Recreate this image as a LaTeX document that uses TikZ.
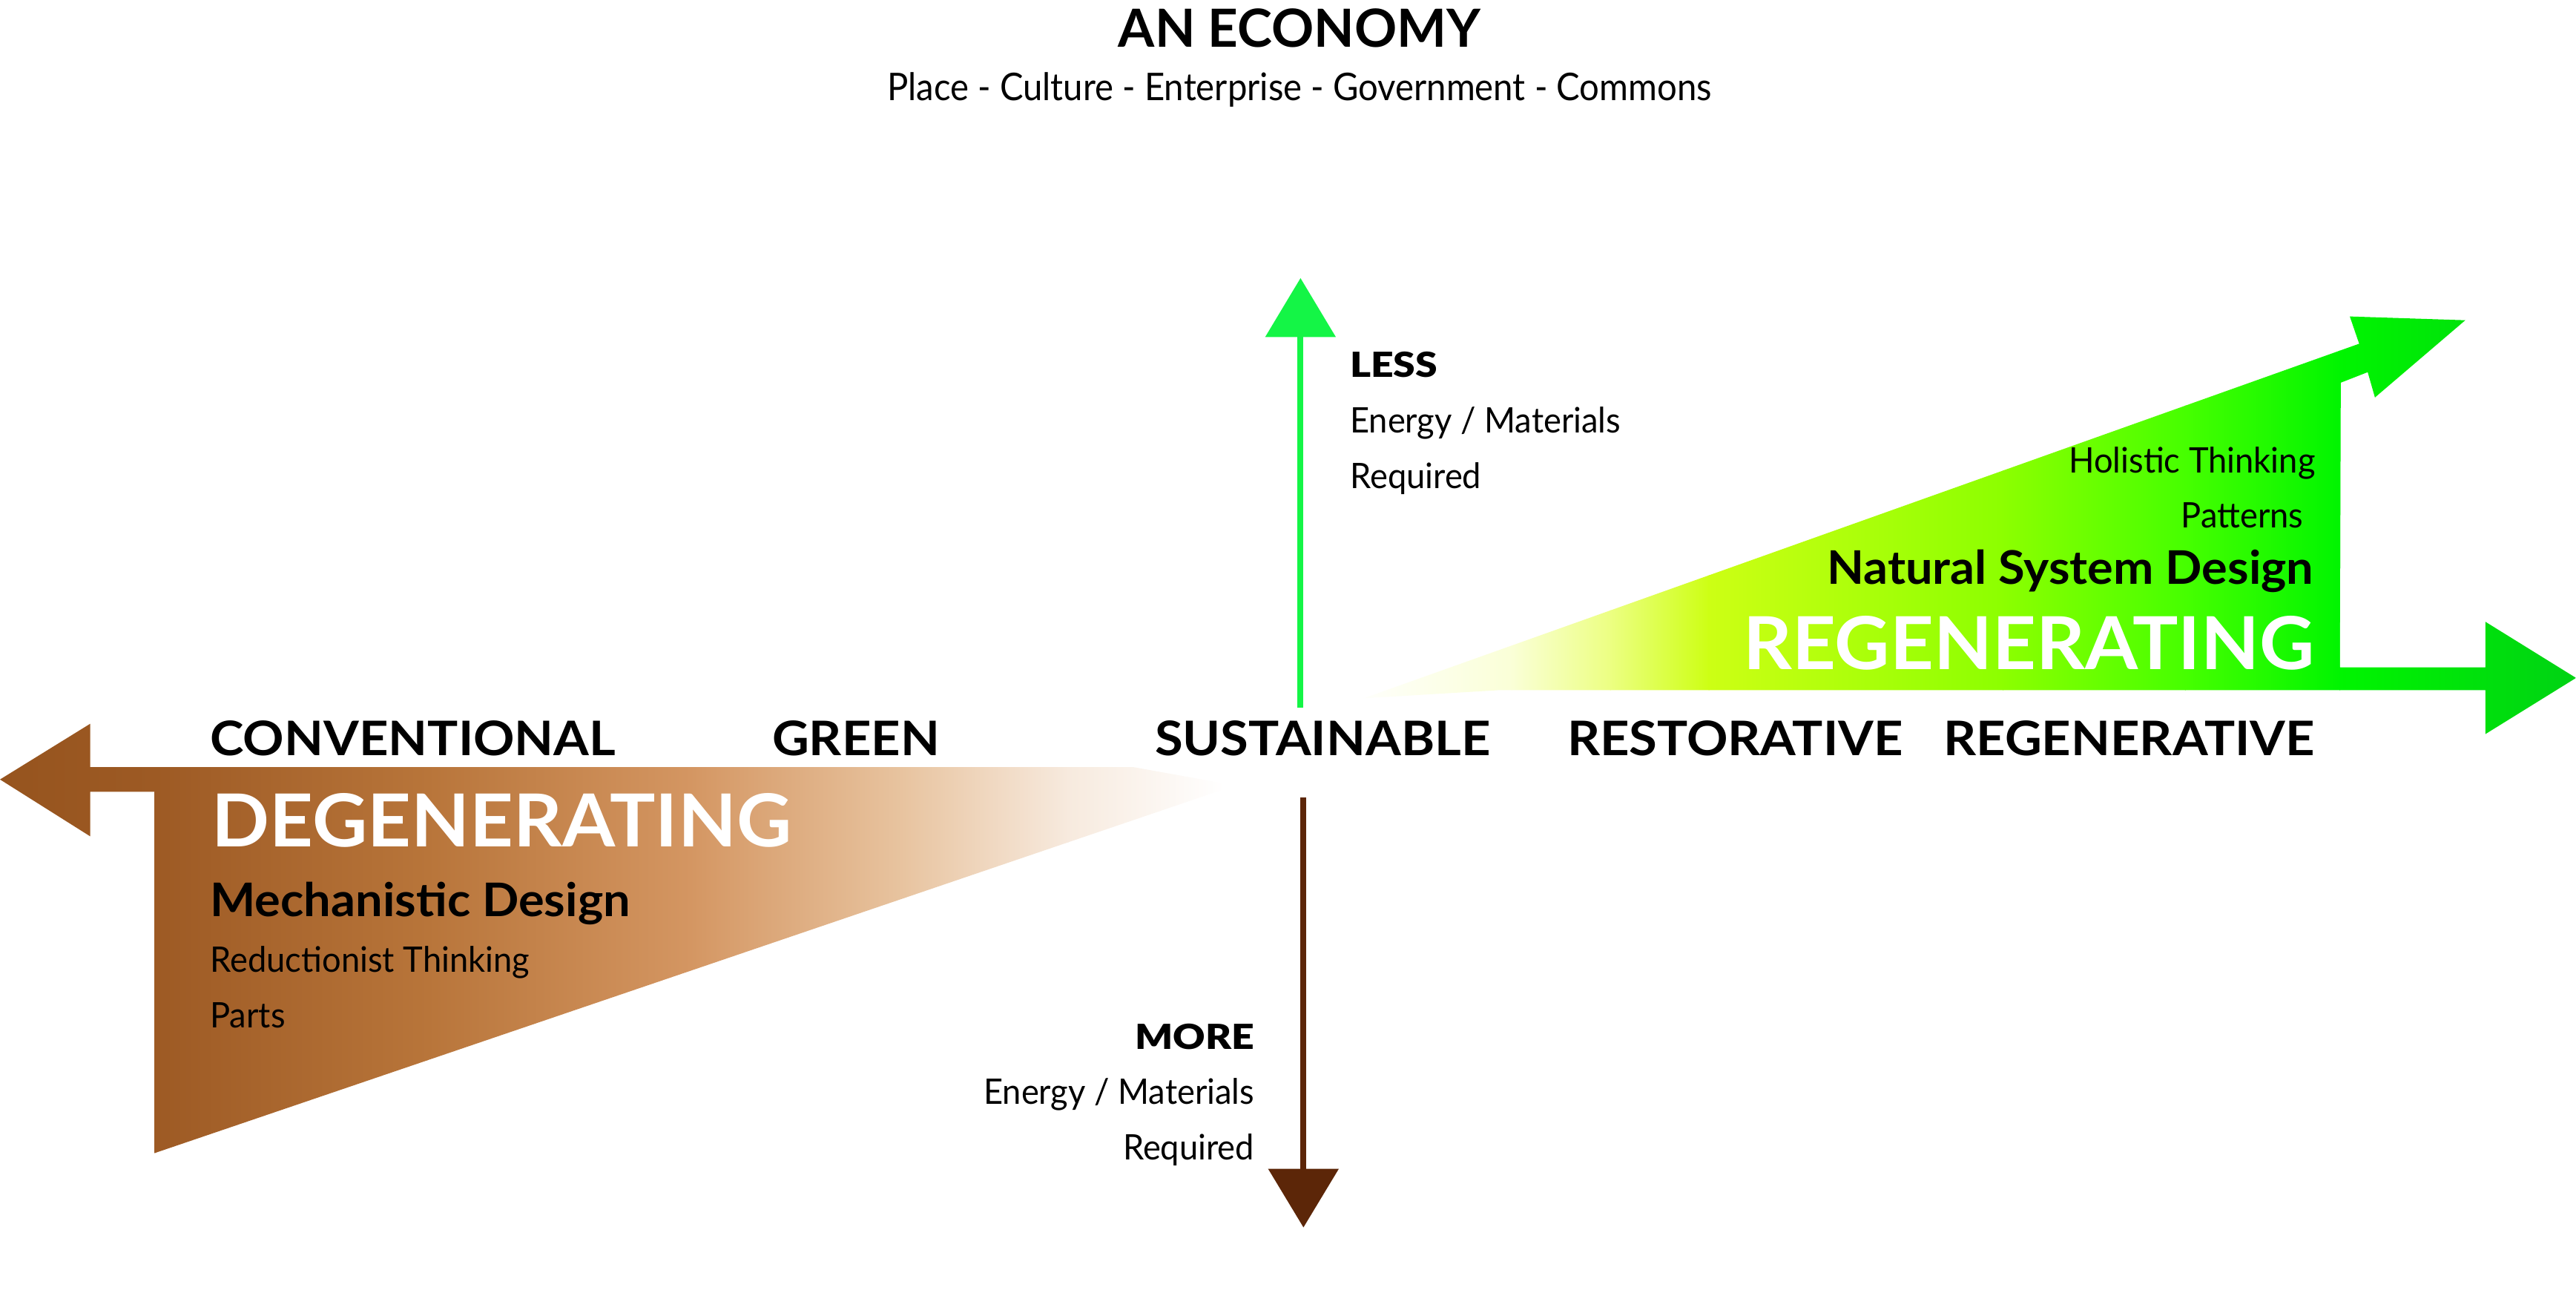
\documentclass[tikz,border=0pt]{standalone}
\usepackage{fontspec}
\setmainfont{Lato}
\newfontfamily\heavyfont{Lato Black}[FakeStretch=1.15]
\newfontfamily\wideLato{Lato}[FakeStretch=1.07]
\newfontfamily\bigLato{Lato}[FakeStretch=1.04]
\newfontfamily\narrowLato{Lato}[FakeStretch=0.955]
\newfontfamily\subLato{Lato}[FakeStretch=0.92]
\definecolor{upgreen}{RGB}{20,245,70}
\definecolor{downbrown}{RGB}{92,38,8}
\definecolor{brA}{RGB}{150,84,30}
\definecolor{brB}{RGB}{157,90,36}
\definecolor{brC}{RGB}{184,117,58}
\definecolor{brD}{RGB}{212,150,98}
\definecolor{brE}{RGB}{232,196,160}
\definecolor{brF}{RGB}{247,234,222}
\definecolor{grA}{RGB}{250,255,215}
\definecolor{grB}{RGB}{236,255,130}
\definecolor{grC}{RGB}{205,255,20}
\definecolor{grD}{RGB}{140,255,0}
\definecolor{grE}{RGB}{70,255,0}
\definecolor{grF}{RGB}{0,245,0}
\definecolor{grG}{RGB}{0,210,20}
\tikzset{
  txt/.style={inner sep=0pt, outer sep=0pt},
  axislabel/.style={txt, anchor=base west, font=\fontsize{29}{31}\wideLato\bfseries},
  bigword/.style={txt, text=white, font=\fontsize{44.5}{46}\bigLato\bfseries},
  designword/.style={txt, font=\fontsize{28.2}{30}\bigLato\bfseries},
  smallword/.style={txt, font=\fontsize{21.4}{23}\narrowLato},
  heavyword/.style={txt, font=\fontsize{21}{23}\heavyfont},
}
\begin{document}
\begin{tikzpicture}[x=1pt,y=-1pt]
\useasboundingbox (0,0) rectangle (1568,785);

% ---------- brown degenerating shape ----------
\begin{scope}
\clip (0,474.4) -- (54.9,440.5) -- (54.9,466.9) -- (690,466.9) -- (752,478)
  -- (94.1,701.8) -- (94.1,481.9) -- (54.9,481.9) -- (54.9,509) -- cycle;
\shade[left color=brA, right color=brB] (-1,430) rectangle (94.5,710);
\shade[left color=brB, right color=brC] (94,430) rectangle (260.5,710);
\shade[left color=brC, right color=brD] (260,430) rectangle (420.5,710);
\shade[left color=brD, right color=brE] (420,430) rectangle (550.5,710);
\shade[left color=brE, right color=brF] (550,430) rectangle (650.5,710);
\shade[left color=brF, right color=white] (650,430) rectangle (745,710);
\end{scope}

% ---------- green regenerating shape ----------
\begin{scope}
\clip (830,425) -- (913,420) -- (1512.8,420) -- (1512.8,446.8) -- (1568,412.6)
  -- (1512.8,378.4) -- (1512.8,406.2) -- (1424.2,406.2) -- (1424.8,232.9)
  -- (1441.2,226.5) -- (1445.6,241.9) -- (1500.6,194.9) -- (1430.3,192.6)
  -- (1436,209.2) -- cycle;
\shade[left color=white, right color=grA] (820,185) rectangle (920.5,450);
\shade[left color=grA, right color=grB] (920,185) rectangle (980.5,450);
\shade[left color=grB, right color=grC] (980,185) rectangle (1040.5,450);
\shade[left color=grC, right color=grD] (1040,185) rectangle (1219.5,450);
\shade[left color=grD, right color=grE] (1219,185) rectangle (1330.5,450);
\shade[left color=grE, right color=grF] (1330,185) rectangle (1424.5,450);
\shade[left color=grF, right color=grG] (1424,185) rectangle (1569,450);
\end{scope}

% ---------- vertical axis arrows ----------
\coordinate (upS) at (791.6,430.9);
\coordinate (upH) at (791.6,205.1);
\coordinate (upT) at (791.6,169.3);
\draw[upgreen, line width=3.5pt] (upS) -- ([yshift=1pt]upH);
\fill[upgreen] ([xshift=-21.5pt]upH) -- ([xshift=21.5pt]upH) -- (upT) -- cycle;

\coordinate (dnS) at (793.4,485.3);
\coordinate (dnH) at (793.4,711.4);
\coordinate (dnT) at (793.4,747);
\draw[downbrown, line width=3.5pt] (dnS) -- ([yshift=-1pt]dnH);
\fill[downbrown] ([xshift=-21.5pt]dnH) -- ([xshift=21.5pt]dnH) -- (dnT) -- cycle;

% ---------- titles ----------
\node[txt, anchor=base, font=\fontsize{32}{34}\selectfont\bfseries] (title) at (791,28.5) {AN ECONOMY};
\node[txt, anchor=base, font=\fontsize{23.2}{25}\subLato] (subtitle) at (791,61) {Place - Culture - Enterprise - Government - Commons};

% ---------- axis labels ----------
\node[axislabel] (conv) at (128,459.8) {CONVENTIONAL};
\node[axislabel] (green) at (470,459.8) {GREEN};
\node[axislabel] (sust) at (703,459.8) {SUSTAINABLE};
\node[axislabel] (rest) at (954,459.8) {RESTORATIVE};
\node[axislabel, anchor=base east] (regen) at (1409,459.8) {REGENERATIVE};

% ---------- left block ----------
\node[bigword, anchor=base west] (degen) at (129,515.4) {DEGENERATING};
\node[designword, anchor=base west] (mech) at (128,558) {Mechanistic Design};
\node[smallword, anchor=base west] (reduc) at (128,591.7) {Reductionist Thinking};
\node[smallword, anchor=base west] (parts) at (128,625.4) {Parts};

% ---------- right block ----------
\node[bigword, anchor=base east] (regenerating) at (1408.7,407.4) {REGENERATING};
\node[designword, anchor=base east] (natural) at (1408.2,355.6) {Natural System Design};
\node[smallword, anchor=base east] (patterns) at (1402,321) {Patterns};
\node[smallword, anchor=base east] (holistic) at (1409.3,287.7) {Holistic Thinking};

% ---------- less / more ----------
\node[heavyword, anchor=base west] (less) at (821.8,229.5) {LESS};
\node[smallword, anchor=base west] (lessE) at (821.8,263.4) {Energy / Materials};
\node[smallword, anchor=base west] (lessR) at (821.8,297.2) {Required};

\node[heavyword, anchor=base east] (more) at (763.5,638.8) {MORE};
\node[smallword, anchor=base east] (moreE) at (763.5,672) {Energy / Materials};
\node[smallword, anchor=base east] (moreR) at (763.5,705.8) {Required};
\end{tikzpicture}
\end{document}
